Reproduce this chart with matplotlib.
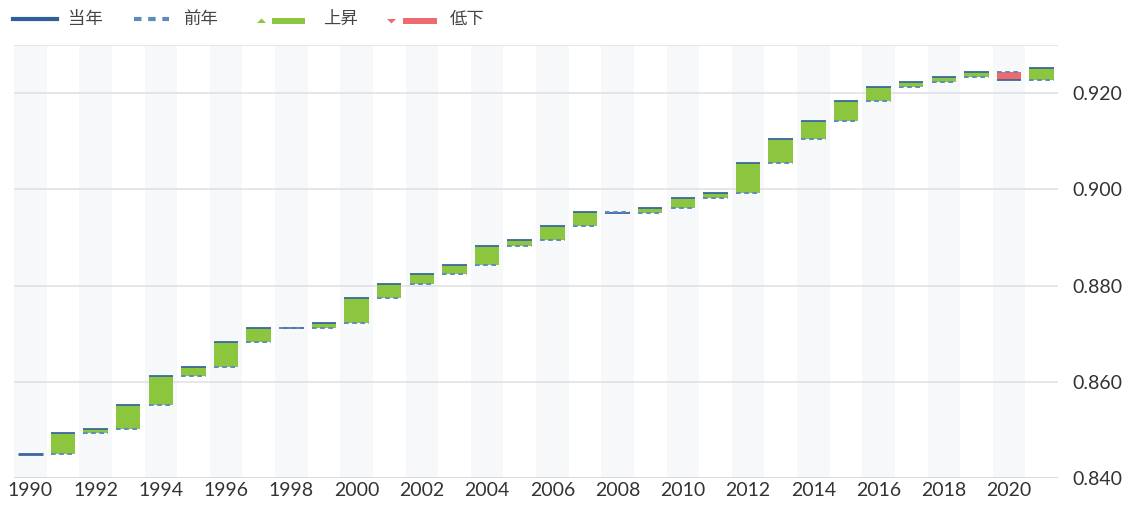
import matplotlib.pyplot as plt
from matplotlib.lines import Line2D
from matplotlib.patches import Rectangle, Polygon

# 年ごとの値 (当年)
years = list(range(1990, 2022))
values = [0.8450, 0.8493, 0.8502, 0.8552, 0.8612, 0.8631, 0.8682, 0.8712,
          0.8711, 0.8723, 0.8774, 0.8803, 0.8823, 0.8843, 0.8883, 0.8895,
          0.8923, 0.8953, 0.8951, 0.8962, 0.8983, 0.8993, 0.9054, 0.9104,
          0.9143, 0.9183, 0.9213, 0.9224, 0.9234, 0.9243, 0.9228, 0.9253]
legend_labels = ["当年", "前年", "上昇", "低下"]

BLUE = "#3a67a0"
BLUE_DASH = "#5d8bbf"
GREEN = "#8cc63f"
RED = "#ef6a6d"
GRID = "#e0e1e4"
BAND = "#f7f8f9"
TEXT = "#333333"

W, H = 1130, 507
fig = plt.figure(figsize=(W / 100, H / 100), dpi=100)
ax = fig.add_axes([14 / W, 1 - 478 / H, (1058 - 14) / W, (478 - 45) / H])

ax.set_xlim(years[0] - 0.5, years[-1] + 0.5)
ax.set_ylim(0.840, 0.930)

# 背景の縞
for y in years:
    if (y - years[0]) % 2 == 0:
        ax.axvspan(y - 0.5, y + 0.5, color=BAND, lw=0, zorder=0)

for t in [0.86, 0.88, 0.90, 0.92, 0.93]:
    ax.axhline(t, color=GRID, lw=1.2, zorder=1)
ax.axhline(0.840, color="#d6d7da", lw=2, zorder=1)

bw = 0.75
for i, y in enumerate(years):
    cur = values[i]
    if i > 0:
        prev = values[i - 1]
        diff = cur - prev
        col = GREEN if diff >= 0 else RED
        ax.bar(y, diff, bottom=prev, width=bw, color=col, lw=0, zorder=2)
        ax.hlines(prev, y - bw / 2, y + bw / 2, color=BLUE_DASH, lw=1.4,
                  linestyle=(0, (2.4, 1.8)), zorder=4)
        ax.hlines(cur, y - bw / 2, y + bw / 2, color=BLUE, lw=1.3, zorder=3)
    else:
        ax.hlines(cur, y - bw / 2, y + bw / 2, color=BLUE, lw=2.0, zorder=3)

for s in ax.spines.values():
    s.set_visible(False)

ax.set_xticks(years[::2])
ax.set_xticklabels([str(y) for y in years[::2]])
ax.set_yticks([0.84, 0.86, 0.88, 0.90, 0.92])
ax.set_yticklabels(["0.840", "0.860", "0.880", "0.900", "0.920"])
ax.yaxis.tick_right()
ax.tick_params(axis="both", length=0, labelsize=14, labelcolor=TEXT)
ax.tick_params(axis="x", pad=3)
ax.tick_params(axis="y", pad=10)
for lab in ax.get_xticklabels() + ax.get_yticklabels():
    lab.set_family(["Lato", "DejaVu Sans"])


# 凡例 (ピクセル座標で描く)
def fx(px):
    return px / W


def fy(py):
    return 1 - py / H


ly = 19
fig.add_artist(Line2D([fx(13), fx(57)], [fy(ly), fy(ly)], color="#2e5f98", lw=3))
fig.add_artist(Line2D([fx(134), fx(169)], [fy(ly), fy(ly)], color=BLUE_DASH,
                      lw=3, linestyle=(0, (1.8, 1.6))))
fig.add_artist(Polygon([[fx(257), fy(23)], [fx(266), fy(23)], [fx(261.5), fy(18.5)]],
                       closed=True, color=GREEN, lw=0))
fig.add_artist(Rectangle((fx(272), fy(24)), fx(305) - fx(272), fy(18) - fy(24),
                         color=GREEN, lw=0))
fig.add_artist(Polygon([[fx(387), fy(19)], [fx(396), fy(19)], [fx(391.5), fy(23.5)]],
                       closed=True, color=RED, lw=0))
fig.add_artist(Rectangle((fx(403), fy(24)), fx(437) - fx(403), fy(18) - fy(24),
                         color=RED, lw=0))
for x0, txt in zip([68, 183, 323, 450], legend_labels):
    fig.text(fx(x0), fy(ly), txt, fontsize=12.5, color="#444444", va="center",
             ha="left", family=["Noto Sans CJK JP", "DejaVu Sans"])

fig.savefig("out.png", dpi=100)
